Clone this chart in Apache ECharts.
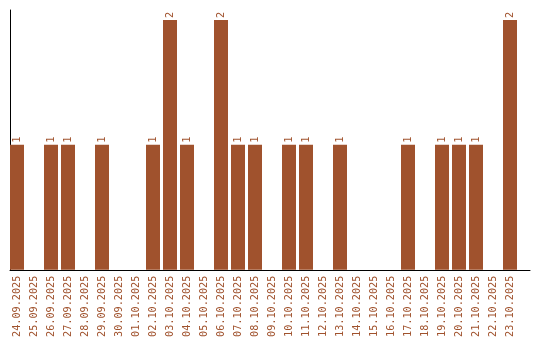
<!DOCTYPE html>
<html><head><meta charset="utf-8">
<script src="https://cdn.jsdelivr.net/npm/echarts@6/dist/echarts.min.js"></script>
<style>html,body{margin:0;padding:0;background:#fff}#c{width:540px;height:340px}</style>
</head><body><div id="c"></div>
<script>
const categories = ["24.09.2025","25.09.2025","26.09.2025","27.09.2025","28.09.2025","29.09.2025","30.09.2025","01.10.2025","02.10.2025","03.10.2025","04.10.2025","05.10.2025","06.10.2025","07.10.2025","08.10.2025","09.10.2025","10.10.2025","11.10.2025","12.10.2025","13.10.2025","14.10.2025","15.10.2025","16.10.2025","17.10.2025","18.10.2025","19.10.2025","20.10.2025","21.10.2025","22.10.2025","23.10.2025"];
const counts = [1,0,1,1,0,1,0,0,1,2,1,0,2,1,1,0,1,1,0,1,0,0,0,1,0,1,1,1,0,2];
const yMax = 2.08;
const color = '#a0522d';
const font = 'DejaVu Sans Mono';

const chart = echarts.init(document.getElementById('c'), null, {renderer:'canvas'});
chart.setOption({
  animation: false,
  grid: [
    {left: 10, right: 10, top: 10, bottom: 70},
    {left: 8.5, width: 510, top: 10, bottom: 70}
  ],
  xAxis: [
    {gridIndex: 0, type: 'value', min: 0, max: 1, axisLine: {show: true, onZero: false, lineStyle: {color: '#000', width: 1}}, axisTick: {show: false}, axisLabel: {show: false}, splitLine: {show: false}},
    {gridIndex: 1, type: 'category', data: categories, axisLine: {show: false}, axisTick: {show: false}, splitLine: {show: false},
     axisLabel: {interval: 0, rotate: 90, margin: 6, color: color, fontFamily: font, fontSize: 10.2}}
  ],
  yAxis: [
    {gridIndex: 0, type: 'value', min: 0, max: 1, axisLine: {show: true, onZero: false, lineStyle: {color: '#000', width: 1}}, axisTick: {show: false}, axisLabel: {show: false}, splitLine: {show: false}},
    {gridIndex: 1, type: 'value', min: 0, max: yMax, show: false, splitLine: {show: false}}
  ],
  series: [{
    type: 'bar', xAxisIndex: 1, yAxisIndex: 1, data: counts,
    barWidth: 14,
    itemStyle: {color: color},
    label: {show: true, position: 'top', rotate: 90, align: 'left', verticalAlign: 'middle', distance: 2,
      color: color, fontFamily: font, fontSize: 10.2,
      formatter: p => p.value ? String(p.value) : ''}
  }]
});
</script></body></html>
